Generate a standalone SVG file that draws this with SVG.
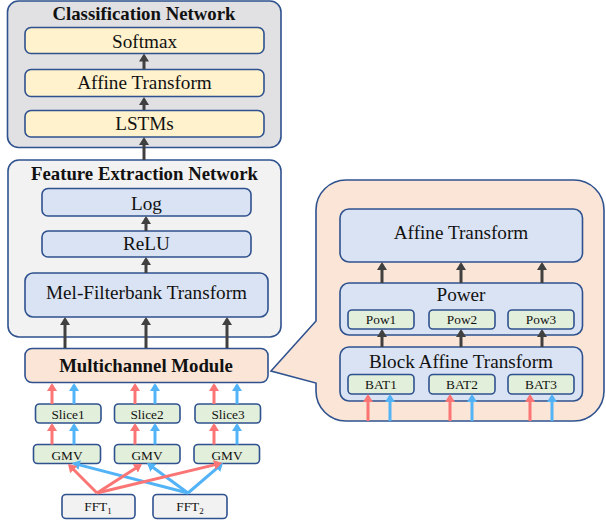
<svg xmlns="http://www.w3.org/2000/svg" width="606" height="523" viewBox="0 0 606 523">
<style>
text{font-family:'Liberation Serif','Times New Roman','DejaVu Serif',serif;fill:#111;text-anchor:middle}
.t{font-size:19.2px}
.b{font-size:18.8px;font-weight:bold}
.s{font-size:13.3px}
.box{stroke:#2f528f;stroke-width:1.6}
.gray{fill:#e1e1e3}
.light{fill:#f2f2f2}
.yel{fill:#fff2cc}
.blu{fill:#dae3f3}
.grn{fill:#e2efda}
.pch{fill:#fbe5d6}
.ad{stroke:#404040;stroke-width:3;fill:none;marker-end:url(#mD)}
.ar{stroke:#fb7575;stroke-width:3;fill:none;marker-end:url(#mR)}
.ab{stroke:#52b3f7;stroke-width:3;fill:none;marker-end:url(#mB)}
</style>
<defs>
<marker id="mD" viewBox="0 0 8 10" markerWidth="8" markerHeight="10" refX="5.5" refY="5" orient="auto" markerUnits="userSpaceOnUse"><path d="M0,0 L8,5 L0,10 z" fill="#404040"/></marker>
<marker id="mR" viewBox="0 0 8 10" markerWidth="8" markerHeight="10" refX="5.5" refY="5" orient="auto" markerUnits="userSpaceOnUse"><path d="M0,0 L8,5 L0,10 z" fill="#fb7575"/></marker>
<marker id="mB" viewBox="0 0 8 10" markerWidth="8" markerHeight="10" refX="5.5" refY="5" orient="auto" markerUnits="userSpaceOnUse"><path d="M0,0 L8,5 L0,10 z" fill="#52b3f7"/></marker>
</defs>

<g id="classification-network">
<rect class="box gray" x="7.5" y="1" width="273.5" height="146.5" rx="11"/>
<text class="b" x="144" y="20">Classification Network</text>
</g>
<g id="softmax"><rect class="box yel" x="25" y="27.5" width="239" height="26" rx="6"/><text class="t" x="144.5" y="47.5">Softmax</text></g>
<g id="affine-transform-cls"><rect class="box yel" x="25" y="69.5" width="239" height="27" rx="6"/><text class="t" x="144.5" y="89">Affine Transform</text></g>
<g id="lstms"><rect class="box yel" x="25" y="110.5" width="239" height="26.5" rx="6"/><text class="t" x="144.5" y="130">LSTMs</text></g>

<g id="feature-extraction-network">
<rect class="box light" x="8" y="160" width="273" height="177" rx="11"/>
<text class="b" x="144.5" y="180">Feature Extraction Network</text>
</g>
<g id="log"><rect class="box blu" x="42" y="188.5" width="209" height="27.5" rx="6"/><text class="t" x="146.5" y="209.5">Log</text></g>
<g id="relu"><rect class="box blu" x="42" y="231" width="209" height="26" rx="6"/><text class="t" x="146.5" y="250">ReLU</text></g>
<g id="mel-filterbank"><rect class="box blu" x="25" y="273" width="243" height="44" rx="8"/><text class="t" x="146.5" y="299">Mel-Filterbank Transform</text></g>

<g id="callout">
<path class="box pch" d="M346,180 H574 A30,30 0 0 1 604,210 V391 A30,30 0 0 1 574,421 H346 A30,30 0 0 1 316,391 V383 L271,371 L316,321 V210 A30,30 0 0 1 346,180 Z"/>
</g>

<g id="multichannel-module"><rect class="box pch" x="25" y="348.5" width="243" height="34" rx="7"/><text class="b" x="146" y="372">Multichannel Module</text></g>

<g id="affine-transform-mc"><rect class="box blu" x="340" y="209" width="242.5" height="53" rx="9"/><text class="t" x="461" y="239">Affine Transform</text></g>
<g id="power"><rect class="box blu" x="340" y="283" width="242.5" height="52" rx="9"/><text class="t" x="461" y="301">Power</text></g>
<g id="pow1"><rect class="box grn" x="348" y="310" width="66" height="19" rx="4"/><text class="s" x="381" y="324">Pow1</text></g>
<g id="pow2"><rect class="box grn" x="429" y="310" width="66" height="19" rx="4"/><text class="s" x="462" y="324">Pow2</text></g>
<g id="pow3"><rect class="box grn" x="508" y="310" width="66" height="19" rx="4"/><text class="s" x="541" y="324">Pow3</text></g>
<g id="block-affine-transform"><rect class="box blu" x="340" y="347" width="242.5" height="54" rx="9"/><text class="t" x="461" y="367.5">Block Affine Transform</text></g>
<g id="bat1"><rect class="box grn" x="348" y="374.5" width="66" height="19.5" rx="4"/><text class="s" x="381" y="388.5">BAT1</text></g>
<g id="bat2"><rect class="box grn" x="429" y="374.5" width="66" height="19.5" rx="4"/><text class="s" x="462" y="388.5">BAT2</text></g>
<g id="bat3"><rect class="box grn" x="508" y="374.5" width="66" height="19.5" rx="4"/><text class="s" x="541" y="388.5">BAT3</text></g>

<g id="slice1"><rect class="box grn" x="35.5" y="404" width="65.5" height="19" rx="4"/><text class="s" x="68" y="419">Slice1</text></g>
<g id="slice2"><rect class="box grn" x="114.5" y="404" width="65.5" height="19" rx="4"/><text class="s" x="147" y="419">Slice2</text></g>
<g id="slice3"><rect class="box grn" x="195" y="404" width="65.5" height="19" rx="4"/><text class="s" x="228" y="419">Slice3</text></g>
<g id="gmv1"><rect class="box grn" x="33.5" y="444.5" width="67" height="19" rx="4"/><text class="s" x="67" y="459.5">GMV</text></g>
<g id="gmv2"><rect class="box grn" x="114.5" y="444.5" width="65.5" height="19" rx="4"/><text class="s" x="147" y="459.5">GMV</text></g>
<g id="gmv3"><rect class="box grn" x="194" y="444.5" width="65.5" height="19" rx="4"/><text class="s" x="227" y="459.5">GMV</text></g>
<g id="fft1"><rect class="box light" x="62" y="494.5" width="73" height="24" rx="4"/><text class="s" x="98" y="511">FFT<tspan font-size="9" dy="3">1</tspan></text></g>
<g id="fft2"><rect class="box light" x="153" y="494.5" width="74" height="24" rx="4"/><text class="s" x="190" y="511">FFT<tspan font-size="9" dy="3">2</tspan></text></g>

<g id="connectors">
<line class="ad" x1="144" y1="69" x2="144" y2="56"/>
<line class="ad" x1="144" y1="110" x2="144" y2="99.5"/>
<line class="ad" x1="144" y1="160" x2="144" y2="139.5"/>
<line class="ad" x1="146" y1="231" x2="146" y2="218.5"/>
<line class="ad" x1="146" y1="273" x2="146" y2="259.5"/>
<line class="ad" x1="65" y1="348" x2="65" y2="319.5"/>
<line class="ad" x1="146" y1="348" x2="146" y2="319.5"/>
<line class="ad" x1="227" y1="348" x2="227" y2="319.5"/>

<line class="ad" x1="382" y1="283" x2="382" y2="264.5"/>
<line class="ad" x1="461" y1="283" x2="461" y2="264.5"/>
<line class="ad" x1="542" y1="283" x2="542" y2="264.5"/>
<line class="ad" x1="382" y1="347" x2="382" y2="331.5"/>
<line class="ad" x1="461" y1="347" x2="461" y2="331.5"/>
<line class="ad" x1="542" y1="347" x2="542" y2="331.5"/>

<line class="ar" x1="368" y1="421" x2="368" y2="396.5"/>
<line class="ab" x1="390" y1="421" x2="390" y2="396.5"/>
<line class="ar" x1="450" y1="421" x2="450" y2="396.5"/>
<line class="ab" x1="472" y1="421" x2="472" y2="396.5"/>
<line class="ar" x1="530" y1="421" x2="530" y2="396.5"/>
<line class="ab" x1="552" y1="421" x2="552" y2="396.5"/>

<line class="ar" x1="52" y1="404" x2="52" y2="385.5"/>
<line class="ab" x1="74" y1="404" x2="74" y2="385.5"/>
<line class="ar" x1="135" y1="404" x2="135" y2="385.5"/>
<line class="ab" x1="155" y1="404" x2="155" y2="385.5"/>
<line class="ar" x1="214" y1="404" x2="214" y2="385.5"/>
<line class="ab" x1="237" y1="404" x2="237" y2="385.5"/>

<line class="ar" x1="52" y1="444.5" x2="52" y2="425.5"/>
<line class="ab" x1="74" y1="444.5" x2="74" y2="425.5"/>
<line class="ar" x1="135" y1="444.5" x2="135" y2="425.5"/>
<line class="ab" x1="155" y1="444.5" x2="155" y2="425.5"/>
<line class="ar" x1="214" y1="444.5" x2="214" y2="425.5"/>
<line class="ab" x1="237" y1="444.5" x2="237" y2="425.5"/>

<line class="ab" x1="188" y1="493" x2="74.4" y2="463.6"/>
<line class="ab" x1="188" y1="493" x2="149" y2="464.5"/>
<line class="ab" x1="188" y1="493" x2="221.1" y2="464.6"/>
<line class="ar" x1="97" y1="493" x2="69.8" y2="465.8"/>
<line class="ar" x1="97" y1="493" x2="139.9" y2="465.4"/>
<line class="ar" x1="97" y1="493" x2="219.6" y2="463.6"/>
</g>
</svg>
